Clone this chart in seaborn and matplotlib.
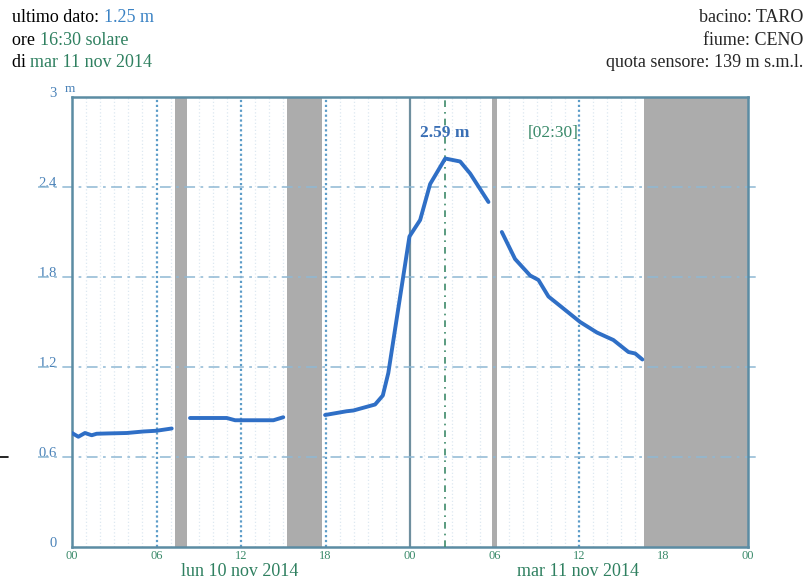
import pandas as pd
import matplotlib.pyplot as plt
import seaborn as sns

# livello idrometrico (m), ore dalla mezzanotte di lun 10 nov 2014
ore_1 = [0.0, 0.45, 0.92, 1.4, 1.75, 2.5, 3.9, 5.06, 6.0, 7.08]
liv_1 = [0.76, 0.735, 0.76, 0.745, 0.755, 0.757, 0.76, 0.77, 0.775, 0.79]
ore_2 = [8.38, 9.5, 10.99, 11.58, 12.5, 13.5, 14.3, 15.0]
liv_2 = [0.86, 0.86, 0.86, 0.845, 0.845, 0.845, 0.845, 0.865]
ore_3 = [17.97, 19.5, 19.98, 21.52, 22.07, 22.46, 23.3, 23.96, 24.72, 25.43,
         26.5, 27.56, 28.27, 29.57]
liv_3 = [0.88, 0.905, 0.91, 0.95, 1.01, 1.16, 1.67, 2.07, 2.18, 2.42,
         2.59, 2.57, 2.49, 2.30]
ore_4 = [30.52, 31.46, 32.53, 33.12, 33.83, 34.89, 36.08, 37.27, 38.44,
         39.51, 39.99, 40.5]
liv_4 = [2.10, 1.92, 1.81, 1.78, 1.67, 1.59, 1.50, 1.43, 1.38, 1.30, 1.29, 1.25]

# periodi senza dati (ore)
buchi = [(7.3, 8.2), (15.25, 17.73), (29.8, 30.2), (40.58, 48.0)]

y_ticks = [0, 0.6, 1.2, 1.8, 2.4, 3]
y_labels = ["0", "0.6", "1.2", "1.8", "2.4", "3"]
x_ticks = [0, 6, 12, 18, 24, 30, 36, 42, 48]
x_labels = ["00", "06", "12", "18", "00", "06", "12", "18", "00"]
giorni = ["lun 10 nov 2014", "mar 11 nov 2014"]

df = pd.concat([
    pd.DataFrame({"ora": o, "livello": l, "tratto": i})
    for i, (o, l) in enumerate([(ore_1, liv_1), (ore_2, liv_2),
                                 (ore_3, liv_3), (ore_4, liv_4)])
])

sns.set_style("white")
plt.rcParams["font.family"] = ["Liberation Serif", "DejaVu Serif"]

W, H = 805, 579
fig = plt.figure(figsize=(W / 100, H / 100), dpi=100)
ax = fig.add_axes([72 / W, 1 - 547 / H, (748 - 72) / W, (547 - 97) / H])

blu_grid = "#8fb8d4"
# griglia oraria
for h in range(1, 48):
    if h == 24:
        ax.axvline(h, color="#6f8f9f", lw=1.6, zorder=1)
    elif h % 6 == 0:
        ax.axvline(h, color="#5c9cc8", lw=1.6, ls=(0, (1, 1.2)), zorder=1)
    else:
        ax.axvline(h, color="#dde8f1", lw=0.9, ls=(0, (1, 1.8)), zorder=1)

for a, b in buchi:
    ax.axvspan(a, b, color="#acacac", lw=0, zorder=2)

for y in y_ticks[1:-1]:
    ax.plot([-2.4, 48.9], [y, y], color=blu_grid, lw=1.3, alpha=0.85,
            ls=(0, (6, 3, 1.5, 3)), clip_on=False, zorder=2.5)

# cursore 02:30
ax.axvline(26.5, color="#3d8a6a", lw=1.2, ls=(0, (4, 3, 1, 3)), zorder=3)

sns.lineplot(data=df, x="ora", y="livello", units="tratto", estimator=None,
             color="#2f6fc6", lw=2.8, ax=ax, zorder=4)

ax.set_xlim(0, 48)
ax.set_ylim(0, 3)
ax.set_xlabel("")
ax.set_ylabel("")
ax.set_xticks(x_ticks)
ax.set_xticklabels(x_labels, fontsize=9, color="#3a8a6a")
ax.set_yticks(y_ticks)
ax.set_yticklabels(y_labels, fontsize=10.5, color="#4a82b8", va="baseline")
ax.tick_params(axis="both", length=0)
ax.tick_params(axis="x", pad=2)
ax.tick_params(axis="y", pad=11)
for s in ax.spines.values():
    s.set_color("#5b8ca3")
    s.set_linewidth(1.8)

ax.text(26.5, 2.76, "2.59 m", ha="center", va="center", fontsize=12.5,
        fontweight="bold", color="#3a6fb5", zorder=5)
ax.text(34.2, 2.76, "[02:30]", ha="center", va="center", fontsize=12.5,
        color="#3a8a6a", zorder=5)


def px(x, y):
    return x / W, 1 - y / H


fig.text(*px(70, 92), "m", fontsize=9.5, color="#4a82b8", ha="center")

verde = "#2f8060"
blu = "#3a82c4"
fs = 13
righe = [
    (22, [("ultimo dato: ", "black"), ("1.25 m", blu)]),
    (45, [("ore ", "black"), ("16:30 solare", verde)]),
    (67, [("di ", "black"), ("mar 11 nov 2014", verde)]),
]
renderer = fig.canvas.get_renderer()
for yy, pezzi in righe:
    x0 = 12
    for testo, col in pezzi:
        t = fig.text(*px(x0, yy), testo.replace(" ", "\u00a0"), fontsize=fs,
                     color=col)
        x0 += t.get_window_extent(renderer).width

fig.text(*px(803, 22), "bacino: TARO", fontsize=fs, ha="right")
fig.text(*px(803, 45), "fiume: CENO", fontsize=fs, ha="right")
fig.text(*px(803, 67), "quota sensore: 139 m s.m.l.", fontsize=fs, ha="right")

fig.text(*px(240, 576), giorni[0], fontsize=13, color=verde, ha="center")
fig.text(*px(578, 576), giorni[1], fontsize=13, color=verde, ha="center")

fig.add_artist(plt.Line2D([0, 8 / W], [1 - 457 / H] * 2, color="black", lw=1.2))

fig.savefig("out.png", dpi=100)
